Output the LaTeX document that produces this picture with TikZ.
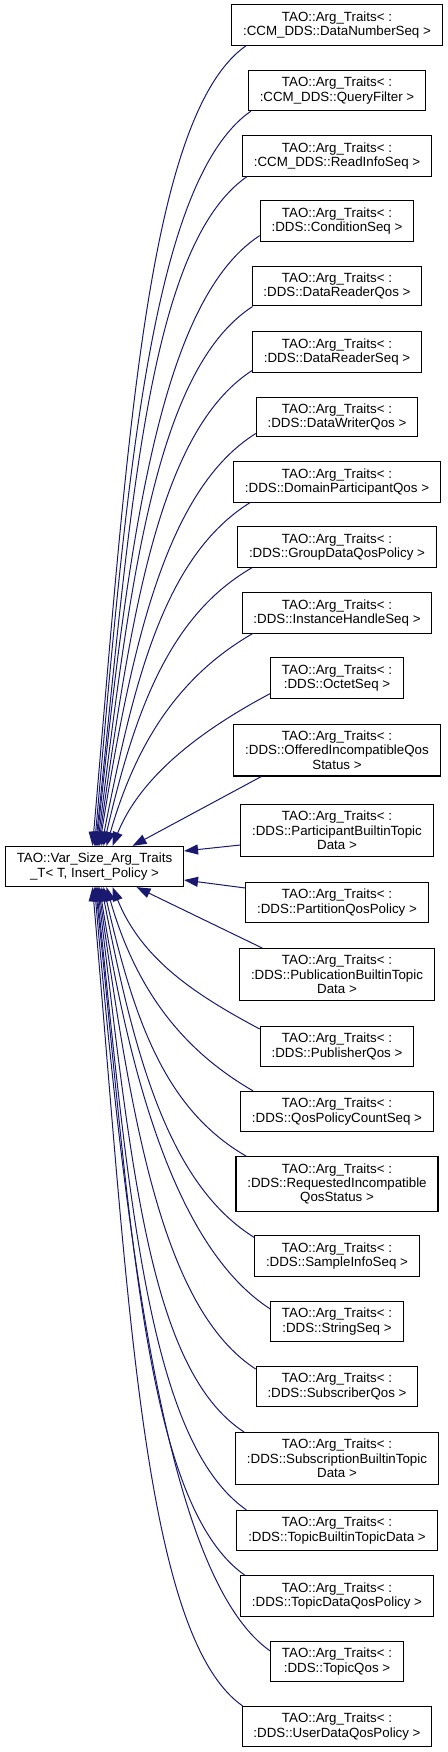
\documentclass[tikz,border=0pt]{standalone}
\usepackage{fontspec}
\setmainfont{Liberation Sans}
\usepackage{tikz}
\usetikzlibrary{arrows.meta}
\definecolor{midnight}{RGB}{25,25,112}
\newcommand{\argt}[1]{TAO::Arg\_Traits< :\\:#1 >}

\begin{document}
\begin{tikzpicture}[x=0.75pt, y=0.75pt,
		classbox/.style={draw=black, fill=white, line width=0.8pt, align=center,
			inner xsep=8.5pt, inner ysep=5pt, font=\fontsize{10}{10.8}\selectfont},
		inherit/.style={draw=midnight, line width=0.75pt, <-,
			>={Triangle[length=10.5pt, width=7.5pt]}}]
		\useasboundingbox (0,0) rectangle (448,-1752);
		\node[classbox] (varsize) at (94.5,-866.5) {TAO::Var\_Size\_Arg\_Traits\\\_T< T, Insert\_Policy >};
		\foreach \cn/\cy/\ct in {dataNumberSeq/25/{CCM\_DDS::DataNumberSeq},
			queryFilter/90.5/{CCM\_DDS::QueryFilter},
			readInfoSeq/156/{CCM\_DDS::ReadInfoSeq},
			conditionSeq/221/{DDS::ConditionSeq},
			dataReaderQos/286/{DDS::DataReaderQos},
			dataReaderSeq/352/{DDS::DataReaderSeq},
			dataWriterQos/417/{DDS::DataWriterQos},
			domainParticipantQos/482/{DDS::DomainParticipantQos},
			groupDataQosPolicy/547/{DDS::GroupDataQosPolicy},
			instanceHandleSeq/613/{DDS::InstanceHandleSeq},
			octetSeq/678/{DDS::OctetSeq},
			offeredStatus/750/{DDS::OfferedIncompatibleQos\\Status},
			participantData/830.5/{DDS::ParticipantBuiltinTopic\\Data},
			partitionQosPolicy/902.5/{DDS::PartitionQosPolicy},
			publicationData/974.5/{DDS::PublicationBuiltinTopic\\Data},
			publisherQos/1046.5/{DDS::PublisherQos},
			qosPolicyCountSeq/1111.5/{DDS::QosPolicyCountSeq},
			requestedStatus/1184/{DDS::RequestedIncompatible\\QosStatus},
			sampleInfoSeq/1256/{DDS::SampleInfoSeq},
			stringSeq/1321.5/{DDS::StringSeq},
			subscriberQos/1386.5/{DDS::SubscriberQos},
			subscriptionData/1458.5/{DDS::SubscriptionBuiltinTopic\\Data},
			topicBuiltinData/1530.5/{DDS::TopicBuiltinTopicData},
			topicDataQosPolicy/1596/{DDS::TopicDataQosPolicy},
			topicQos/1661.5/{DDS::TopicQos},
			userDataQosPolicy/1726.5/{DDS::UserDataQosPolicy}}{
			\node[classbox] (\cn) at (337,-\cy) {\argt{\ct}};
		}
		% children above the base class
		\foreach \cn/\sx/\oa/\od/\ia/\id/\ex/\ey in {dataNumberSeq/-2/85/400/215/122/15/0,
			queryFilter/0/85/368/215/122/3/0,
			readInfoSeq/1/84/335/215/122/5/0,
			conditionSeq/2/84/305/213/120/0/6,
			dataReaderQos/3/83/270/213/115/1/0,
			dataReaderSeq/4/82/238/213/110/0/2,
			dataWriterQos/5/81/206/212/105/0/4,
			domainParticipantQos/7/79/172/212/100/17/0,
			groupDataQosPolicy/9/77/140/210/95/15/0,
			instanceHandleSeq/12/74/107/210/85/11/0,
			octetSeq/18/68/77/208/75/0/5}{
			\draw[inherit] ([shift={(\sx,0)}]varsize.north) .. controls +(\oa:\od) and +(\ia:\id) .. ([shift={(\ex,\ey)}]\cn.south west);
		}
		% children below the base class
		\foreach \cn/\sx/\oa/\od/\ia/\id/\ex/\ey in {publisherQos/18/-68/77/152/75/0/-3,
			qosPolicyCountSeq/12/-74/103/150/85/13/0,
			requestedStatus/9/-77/135/150/95/11/0,
			sampleInfoSeq/7/-79/175/148/100/0/-2,
			stringSeq/5/-81/212/147/105/0/-8,
			subscriberQos/4/-82/242/147/110/0/-3,
			subscriptionData/3/-83/272/147/115/9/0,
			topicBuiltinData/2/-84/312/145/120/10/0,
			topicDataQosPolicy/1/-84/345/145/122/5/0,
			topicQos/0/-85/382/145/122/0/-10,
			userDataQosPolicy/-2/-85/410/145/122/1/0}{
			\draw[inherit] ([shift={(\sx,0)}]varsize.south) .. controls +(\oa:\od) and +(\ia:\id) .. ([shift={(\ex,\ey)}]\cn.north west);
		}
		\draw[inherit] ([shift={(38,0)}]varsize.north) -- ([shift={(28,0)}]offeredStatus.south west);
		\draw[inherit] ([shift={(0,15.5)}]varsize.east) -- ([shift={(0,-14.5)}]participantData.west);
		\draw[inherit] ([shift={(0,-13.5)}]varsize.east) -- ([shift={(0,14.5)}]partitionQosPolicy.west);
		\draw[inherit] ([shift={(42,0)}]varsize.south) -- ([shift={(23,0)}]publicationData.north west);
	\end{tikzpicture}
\end{document}
